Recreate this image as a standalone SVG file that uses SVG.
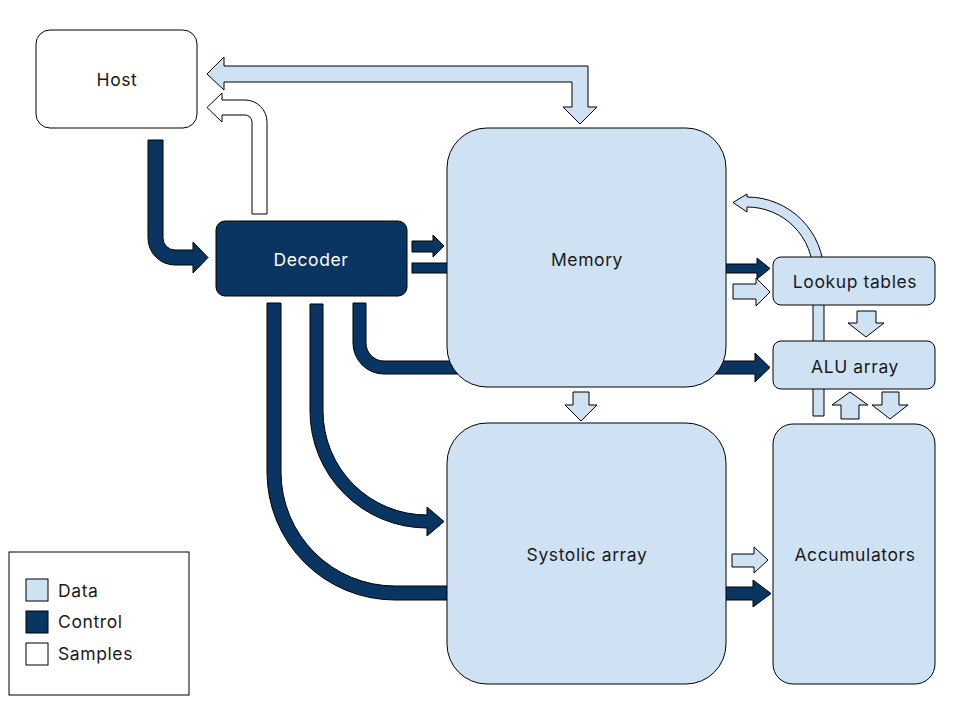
<svg xmlns="http://www.w3.org/2000/svg" width="960" height="720" viewBox="0 0 960 720">
<style>
.data{fill:#cfe2f3;stroke:#000;stroke-width:1}
.ctrl{fill:#083562;stroke:#000;stroke-width:1}
.smp{fill:#fff;stroke:#000;stroke-width:1}
text{font-family:Inter,"Noto Sans","Liberation Sans",sans-serif;font-size:17.5px;letter-spacing:0.6px;fill:#1a1a1a;text-anchor:middle;dominant-baseline:central}
.lg{text-anchor:start}
.wt{fill:#fff}
</style>
<rect width="960" height="720" fill="#fff"/>
<g id="connectors">
<path class="data" d="M207,74 L224,57 L224,66 L588,66 L588,107 L597,107 L580,124 L563,107 L572,107 L572,82 L224,82 L224,90 Z"/>
<path class="smp" d="M252,214 L252,122 A7,7 0 0 0 245,115 L222,115 L222,122 L207,107.5 L222,93 L222,100 L245,100 A22,22 0 0 1 267,122 L267,214 Z"/>
<path class="ctrl" d="M148,140 L163,140 L163,238 A12,12 0 0 0 175,250 L193,250 L193,242 L208,257.5 L193,273 L193,265 L175,265 A27,27 0 0 1 148,238 Z"/>
<path class="ctrl" d="M412,241 L433,241 L433,235 L444,246 L433,257 L433,252 L412,252 Z"/>
<rect class="ctrl" x="412" y="263" width="40" height="10"/>
<path class="ctrl" d="M353,303 L366,303 L366,343 A18,18 0 0 0 384,361 L755,361 L755,353 L770,367.5 L755,382 L755,374 L384,374 A31,31 0 0 1 353,343 Z"/>
<path class="ctrl" d="M310,304 L323,304 L323,411 A104,104 0 0 0 427,515 L427,507 L444,521.5 L427,536 L427,528 A117,117 0 0 1 310,411 Z"/>
<path class="ctrl" d="M267,303 L281,303 L281,472 A114,114 0 0 0 395,586 L460,586 L460,600 L395,600 A128,128 0 0 1 267,472 Z"/>
<path class="ctrl" d="M720,264 L757,264 L757,258 L770,268.5 L757,279 L757,273 L720,273 Z"/>
<path class="data" d="M733,284 L756,284 L756,278 L770,292 L756,306 L756,299 L733,299 Z"/>
<path class="data" d="M813,416 L824,416 L824,274 A77,77 0 0 0 747,197 L747,194 L733,202.5 L747,212 L747,207 A66,66 0 0 1 813,274 Z"/>
<path class="data" d="M857,311 L876,311 L876,323 L884,323 L866,337 L848,323 L857,323 Z"/>
<path class="data" d="M841,419 L859,419 L859,405 L868,405 L850,392 L832,405 L841,405 Z"/>
<path class="data" d="M882,392 L899,392 L899,405 L908,405 L890,419 L872,405 L882,405 Z"/>
<path class="data" d="M573,392 L589,392 L589,405 L597,405 L581,421 L565,405 L573,405 Z"/>
<path class="data" d="M732,554 L754,554 L754,547 L768,560 L754,573 L754,567 L732,567 Z"/>
<path class="ctrl" d="M720,587 L753,587 L753,580 L771,593.5 L753,607 L753,600 L720,600 Z"/>
</g>
<g id="host"><rect class="smp" x="36" y="30" width="161" height="98" rx="14"/><text x="117" y="79.5">Host</text></g>
<g id="decoder"><rect class="ctrl" x="216" y="221" width="191" height="75" rx="9"/><text class="wt" x="311" y="259.5">Decoder</text></g>
<g id="memory"><rect class="data" x="447" y="128" width="279" height="259" rx="40"/><text x="587" y="259.5">Memory</text></g>
<g id="systolic"><rect class="data" x="447" y="423" width="279" height="261" rx="40"/><text x="587" y="554.5">Systolic array</text></g>
<g id="lookup"><rect class="data" x="773" y="257" width="162" height="48" rx="8"/><text x="855" y="281.5">Lookup tables</text></g>
<g id="alu"><rect class="data" x="773" y="341" width="162" height="48" rx="8"/><text x="855" y="366.5">ALU array</text></g>
<g id="accumulators"><rect class="data" x="773" y="424" width="162" height="260" rx="20"/><text x="855" y="554.5">Accumulators</text></g>
<g id="legend">
<rect x="9" y="552" width="180" height="143" fill="#fff" stroke="#000"/>
<rect class="data" x="26" y="579" width="22" height="22"/><text class="lg" x="58" y="590">Data</text>
<rect class="ctrl" x="26" y="611" width="22" height="22"/><text class="lg" x="58" y="621.5">Control</text>
<rect class="smp" x="26" y="643" width="22" height="22"/><text class="lg" x="58" y="653.5">Samples</text>
</g>
</svg>
